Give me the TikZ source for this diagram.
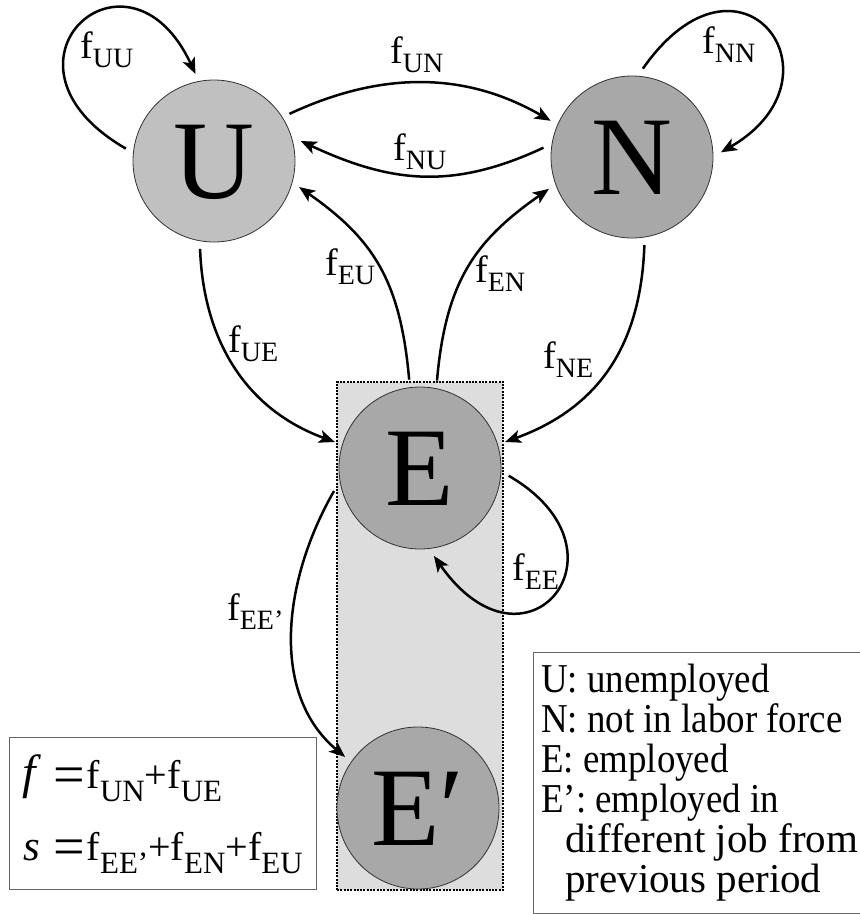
\documentclass[tikz,border=0pt]{standalone}
\usepackage{fontspec}
\setmainfont{Liberation Serif}
\newfontfamily\narrowserif[FakeStretch=0.9]{Liberation Serif}
\usetikzlibrary{arrows.meta}
\definecolor{lightU}{RGB}{192,192,192}
\definecolor{darkN}{RGB}{168,168,168}
\definecolor{grpfill}{RGB}{221,221,221}
\newcommand\fsub[1]{f\lower9pt\hbox{\fontsize{28}{28}\selectfont #1}}
\newcommand\fsubB[1]{f\lower13pt\hbox{\fontsize{31}{31}\selectfont #1}}
\newcommand\bigeq{\raisebox{-5pt}{\fontsize{56}{56}\selectfont =}}
\begin{document}
\begin{tikzpicture}[x=1pt,y=1pt,
 state/.style={circle, draw=black!80, line width=0.8pt, minimum size=162pt, inner sep=0pt, outer sep=8pt,
   font=\fontsize{112}{112}\selectfont, text height=74pt, text depth=0pt},
 flow/.style={line width=2.5pt, -{Stealth[length=16pt,width=13pt,inset=4pt]}},
 flab/.style={anchor=base west, inner sep=0pt, font=\fontsize{38}{38}\selectfont},
 eqn/.style={anchor=base west, inner sep=0pt, font=\fontsize{40}{40}\selectfont},
 box/.style={draw=black!60, line width=1pt, inner sep=0pt},
 legend/.style={anchor=base west, inner sep=0pt, font=\narrowserif\fontsize{41}{41}\selectfont},
 legendw/.style={anchor=base west, inner sep=0pt, font=\fontsize{41}{41}\selectfont}]
\useasboundingbox (0,0) rectangle (860,-914);
% group rectangle
\node[draw=black, line width=2pt, dash pattern=on 2pt off 1.3pt, fill=grpfill, minimum width=166pt,
  minimum height=508pt, inner sep=0pt] (grp) at (420,-636) {};
% states
\node[state, fill=lightU] (U) at (214,-161) {U};
\node[state, fill=darkN] (N) at (632,-157) {N};
\node[state, fill=darkN] (E) at (420,-468) {E};
\node[state, fill=darkN] (Ep) at (418,-808) {E′};
% flows
\draw[flow] (U.172) .. controls +(150:170) and +(115:160) .. (U.102);
\draw[flow] (U.32) .. controls +(25:100) and +(150:100) .. (N.156);
\draw[flow] (N.174) .. controls +(205:100) and +(-25:100) .. (U.13);
\draw[flow] (N.83) .. controls +(55:170) and +(30:150) .. (N.3);
\draw[flow] (E.97) .. controls +(95:100) and +(-35:90) .. (U.-17);
\draw[flow] (E.79) .. controls +(85:100) and +(215:90) .. (N.-159);
\draw[flow] (U.-99) .. controls +(-88:85) and +(160:100) .. (E.163);
\draw[flow] (N.-82) .. controls +(-92:100) and +(20:100) .. (E.17);
\draw[flow] (E.-5) .. controls +(-30:150) and +(-55:160) .. (E.-81);
\draw[flow] (E.-165) .. controls +(-120:100) and +(140:100) .. (Ep.145);
% flow labels
\node[flab] (lUU) at (80,-58) {\fsub{UU}};
\node[flab] (lUN) at (390,-63) {\fsub{UN}};
\node[flab] (lNU) at (393,-160) {\fsub{NU}};
\node[flab] (lNN) at (702,-53) {\fsub{NN}};
\node[flab] (lEU) at (325,-275) {\fsub{EU}};
\node[flab] (lEN) at (475,-282) {\fsub{EN}};
\node[flab] (lUE) at (228,-352) {\fsub{UE}};
\node[flab] (lNE) at (543,-368) {\fsub{NE}};
\node[flab] (lEE) at (512,-580) {\fsub{EE}};
\node[flab] (lEEp) at (227,-620) {\fsub{EE’}};
% equation box
\node[box, minimum width=307pt, minimum height=152pt] (eqbox) at (162.5,-813) {};
\node[eqn] (eq1) at (22,-788) {\makebox[31pt][l]{\fontsize{48}{48}\selectfont\textit{f}}\bigeq\hspace{2pt}\fsubB{UN}+\fsubB{UE}};
\node[eqn] (eq2) at (23,-860) {\makebox[30pt][l]{\fontsize{43}{43}\selectfont\textit{s}}\bigeq\hspace{2pt}\fsubB{EE’}+\fsubB{EN}+\fsubB{EU}};
% legend box
\draw[box] (533,-652) rectangle (875,-913);
\node[legend] (g1) at (541,-692) {U: unemployed};
\node[legend] (g2) at (541,-732) {N: not in labor force};
\node[legend] (g3) at (541,-772) {E: employed};
\node[legend] (g4) at (541,-812) {E’: employed in};
\node[legendw] (g5) at (565,-852) {different job from};
\node[legendw] (g6) at (565,-892) {previous period};
\end{tikzpicture}
\end{document}
